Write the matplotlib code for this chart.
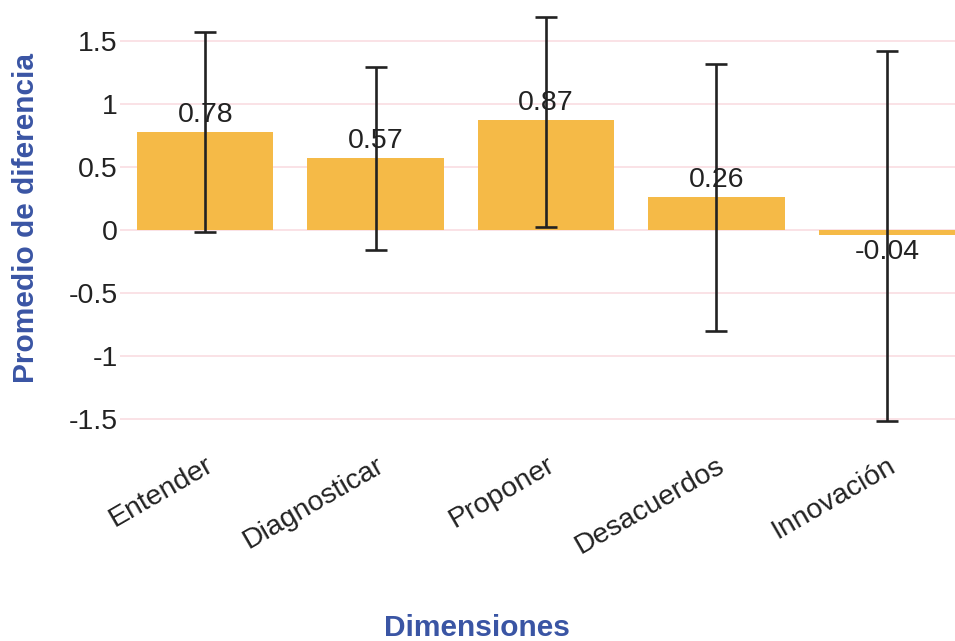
import matplotlib
matplotlib.use("Agg")
import matplotlib.pyplot as plt
import numpy as np

categories = ["Entender", "Diagnosticar", "Proponer", "Desacuerdos", "Innovación"]
means = [0.78, 0.57, 0.87, 0.26, -0.04]
upper = [1.57, 1.29, 1.69, 1.32, 1.42]
lower = [-0.02, -0.16, 0.02, -0.80, -1.52]
yticks = [-1.5, -1, -0.5, 0, 0.5, 1, 1.5]
ytick_labels = ["-1.5", "-1", "-0.5", "0", "0.5", "1", "1.5"]

plt.rcParams['font.family'] = ['Liberation Sans', 'DejaVu Sans']

W, H = 955, 641
fig = plt.figure(figsize=(W / 100, H / 100), dpi=100)
left_px, right_px = 120, 955
top_px, bot_px = 8.2, 446.7
ax = fig.add_axes([left_px / W, 1 - bot_px / H, (right_px - left_px) / W, (bot_px - top_px) / H])

x = np.arange(len(categories))
means_a = np.array(means)
yerr = np.vstack([means_a - np.array(lower), np.array(upper) - means_a])

ax.bar(x, means, width=0.8, color="#F5BA47", zorder=2)
ax.errorbar(x, means, yerr=yerr, fmt="none", ecolor="#222222", elinewidth=1.9,
            capsize=8, capthick=1.9, zorder=3)

for xi, m in zip(x, means):
    if m >= 0:
        ax.annotate(f"{m:.2f}", (xi, m), xytext=(0, 3), textcoords="offset points",
                    ha="center", va="bottom", fontsize=20.5, color="#222222", zorder=4)
    else:
        ax.annotate(f"{m:.2f}", (xi, m), xytext=(0, -3), textcoords="offset points",
                    ha="center", va="top", fontsize=20.5, color="#222222", zorder=4)

ax.set_xlim(-0.5, 4.4)
ax.set_ylim(-1.72, 1.76)
ax.set_yticks(yticks)
ax.set_yticklabels(ytick_labels, fontsize=20.5, color="#222222")
ax.set_xticks(x)
ax.set_xticklabels(categories, rotation=30, ha="right", rotation_mode="anchor",
                   fontsize=20.5, color="#222222")
ax.tick_params(axis="both", length=0)
ax.tick_params(axis="y", pad=1.5)
ax.tick_params(axis="x", pad=4)
ax.grid(axis="y", color="#F9DDE1", linewidth=1.2, zorder=0)
ax.set_axisbelow(True)
for s in ax.spines.values():
    s.set_visible(False)

fig.text(477 / W, 1 - 628 / H, "Dimensiones", ha="center", va="center",
         fontsize=21.5, fontweight="bold", color="#3A55A4")
fig.text(26 / W, 1 - 218 / H, "Promedio de diferencia", ha="center", va="center",
         rotation=90, fontsize=21.5, fontweight="bold", color="#3A55A4")

fig.savefig("out.png", dpi=100)
